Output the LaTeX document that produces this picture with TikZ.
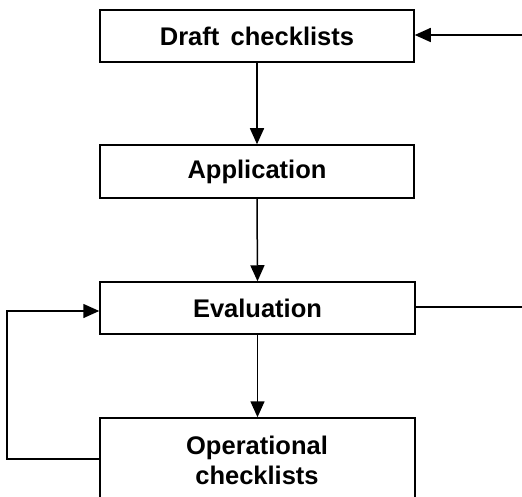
\documentclass[tikz,border=0pt]{standalone}
\usepackage{fontspec}
\setmainfont{Liberation Sans}
\usetikzlibrary{arrows.meta}
\begin{document}
\begin{tikzpicture}[x=1pt,y=-1pt,
  line width=1.5pt,
  txt/.style={font=\fontsize{25.5}{30}\selectfont\bfseries,align=center},
  boxstyle/.style={draw,rectangle,inner sep=0pt,txt},
  arr/.style={-{Triangle[length=16pt,width=14pt]}}]
\useasboundingbox (0,0) rectangle (522,497);
\clip (0,0) rectangle (522,497);
\node[boxstyle,minimum width=314pt,minimum height=52pt] (draft) at (257,36) {Draft\ \,checklists};
\node[boxstyle,minimum width=314pt,minimum height=53pt] (app) at (257,171.5) {Application};
\node[boxstyle,minimum width=315pt,minimum height=52pt] (eval) at (257.5,308) {Evaluation};
\node[boxstyle,minimum width=315pt,minimum height=120pt] (oper) at (257.5,478) {};
\node[txt] (opertext) at (257,460) {Operational\\checklists};
\coordinate (inR) at (522,35);
\coordinate (outR) at (522,307);
\coordinate (loopB) at (7,459);
\coordinate (loopT) at (7,311);
\draw[arr] (inR) -- (draft.east |- inR);
\draw[arr] (draft.south) -- (app.north);
\draw[arr] (app.south) -- (eval.north);
\draw[arr] (eval.south) -- (oper.north);
\draw (eval.east |- outR) -- (outR);
\draw[arr] (oper.west |- loopB) -- (loopB) -- (loopT) -- (eval.west |- loopT);
\end{tikzpicture}
\end{document}
